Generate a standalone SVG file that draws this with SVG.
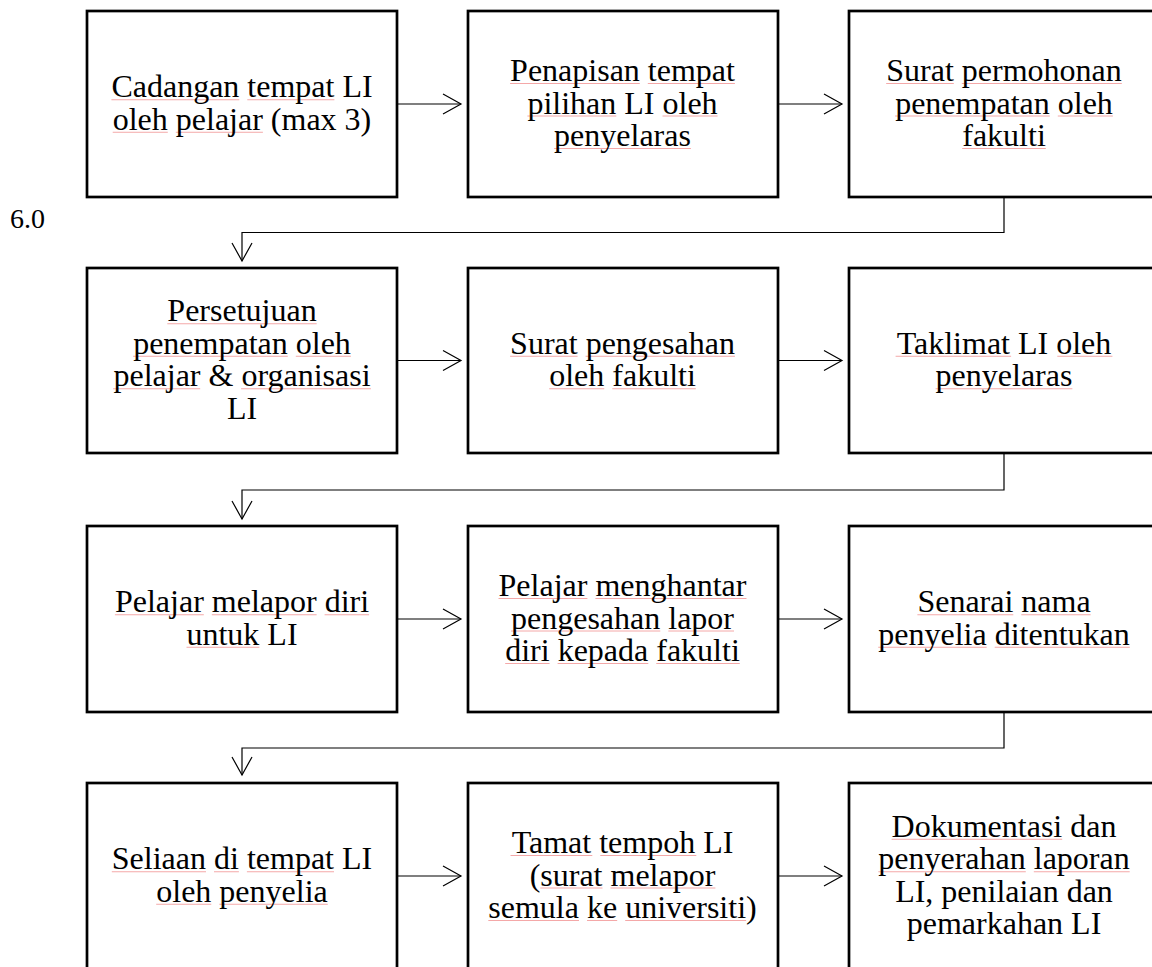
<svg xmlns="http://www.w3.org/2000/svg" width="1152" height="967" viewBox="0 0 1152 967">
<style>
.box{fill:#fff;stroke:#000;stroke-width:2.7}
.t{font-family:"Liberation Serif","Times New Roman",serif;font-size:32px;fill:#000;text-anchor:middle}
.sq{fill:none;stroke:#f4a8a8;stroke-width:1}
.c{fill:none;stroke:#000;stroke-width:1.2}
.lbl{font-family:"Liberation Serif","Times New Roman",serif;font-size:28px;fill:#000}
</style>
<defs>
<marker id="ah" markerUnits="userSpaceOnUse" markerWidth="22" markerHeight="24" refX="18" refY="10" orient="auto" overflow="visible">
<path d="M0,0 L18,10 L0,20" fill="none" stroke="#000" stroke-width="1.2"/>
</marker>
</defs>
<rect width="1152" height="967" fill="#fff"/>
<text class="lbl" x="10" y="228">6.0</text>

<g id="connectors">
<line class="c" x1="397" y1="104" x2="461" y2="104" marker-end="url(#ah)"/>
<line class="c" x1="778" y1="104" x2="842" y2="104" marker-end="url(#ah)"/>
<polyline class="c" points="1004,197 1004,232.5 242,232.5 242,261" marker-end="url(#ah)"/>
<line class="c" x1="397" y1="360.5" x2="461" y2="360.5" marker-end="url(#ah)"/>
<line class="c" x1="778" y1="360.5" x2="842" y2="360.5" marker-end="url(#ah)"/>
<polyline class="c" points="1004,453 1004,490 242,490 242,519" marker-end="url(#ah)"/>
<line class="c" x1="397" y1="619" x2="461" y2="619" marker-end="url(#ah)"/>
<line class="c" x1="778" y1="619" x2="842" y2="619" marker-end="url(#ah)"/>
<polyline class="c" points="1004,712 1004,748 242,748 242,775" marker-end="url(#ah)"/>
<line class="c" x1="397" y1="876" x2="461" y2="876" marker-end="url(#ah)"/>
<line class="c" x1="778" y1="876" x2="842" y2="876" marker-end="url(#ah)"/>
</g>

<g id="n1">
<rect class="box" x="87" y="11" width="310" height="186"/>
<path class="sq" d="M111.4 99.75H239.3M247.3 99.75H334.4M112.7 132.25H167.8M175.8 132.25H262.9"/>
<text class="t" x="242" y="97.25"><tspan>Cadangan</tspan> <tspan>tempat</tspan> LI</text>
<text class="t" x="242" y="129.75"><tspan>oleh</tspan> <tspan>pelajar</tspan> (max 3)</text>
</g>
<g id="n2">
<rect class="box" x="468" y="11" width="310" height="186"/>
<path class="sq" d="M510.1 83.5H639.8M647.8 83.5H734.9M527.4 116H616.3M662.5 116H717.6M554.1 148.5H690.9"/>
<text class="t" x="622.5" y="81"><tspan>Penapisan</tspan> <tspan>tempat</tspan></text>
<text class="t" x="622.5" y="113.5"><tspan>pilihan</tspan> LI <tspan>oleh</tspan></text>
<text class="t" x="622.5" y="146"><tspan>penyelaras</tspan></text>
</g>
<g id="n3">
<rect class="box" x="849" y="11" width="310" height="186"/>
<path class="sq" d="M886.2 83.5H953.8M961.8 83.5H1121.8M895.1 116H1049.8M1057.8 116H1112.9M962.2 148.5H1045.8"/>
<text class="t" x="1004" y="81"><tspan>Surat</tspan> <tspan>permohonan</tspan></text>
<text class="t" x="1004" y="113.5"><tspan>penempatan</tspan> <tspan>oleh</tspan></text>
<text class="t" x="1004" y="146"><tspan>fakulti</tspan></text>
</g>

<g id="n4">
<rect class="box" x="87" y="268" width="310" height="185"/>
<path class="sq" d="M167.3 323.75H316.7M133.1 356.25H287.8M295.8 356.25H350.9M113.1 388.75H200.2M241.1 388.75H370.9"/>
<text class="t" x="242" y="321.25"><tspan>Persetujuan</tspan></text>
<text class="t" x="242" y="353.75"><tspan>penempatan</tspan> <tspan>oleh</tspan></text>
<text class="t" x="242" y="386.25"><tspan>pelajar</tspan> &amp; <tspan>organisasi</tspan></text>
<text class="t" x="242" y="418.75">LI</text>
</g>
<g id="n5">
<rect class="box" x="468" y="268" width="310" height="185"/>
<path class="sq" d="M510.1 356.25H577.6M585.6 356.25H734.9M549.2 388.75H604.3M612.3 388.75H695.8"/>
<text class="t" x="622.5" y="353.75"><tspan>Surat</tspan> <tspan>pengesahan</tspan></text>
<text class="t" x="622.5" y="386.25"><tspan>oleh</tspan> <tspan>fakulti</tspan></text>
</g>
<g id="n6">
<rect class="box" x="849" y="268" width="310" height="185"/>
<path class="sq" d="M895.6 356.25H1011.1M1057.3 356.25H1112.4M935.6 388.75H1072.4"/>
<text class="t" x="1004" y="353.75"><tspan>Taklimat</tspan> LI <tspan>oleh</tspan></text>
<text class="t" x="1004" y="386.25"><tspan>penyelaras</tspan></text>
</g>

<g id="n7">
<rect class="box" x="87" y="526" width="310" height="186"/>
<path class="sq" d="M114.9 614.75H203.8M211.8 614.75H316.6M324.6 614.75H369.1M186.5 647.25H259.4"/>
<text class="t" x="242" y="612.25"><tspan>Pelajar</tspan> <tspan>melapor</tspan> <tspan>diri</tspan></text>
<text class="t" x="242" y="644.75"><tspan>untuk</tspan> LI</text>
</g>
<g id="n8">
<rect class="box" x="468" y="526" width="310" height="186"/>
<path class="sq" d="M498.5 598.5H587.4M595.4 598.5H746.5M511 631H660.3M668.3 631H734M505.2 663.5H549.6M557.6 663.5H648.3M656.3 663.5H739.8"/>
<text class="t" x="622.5" y="596"><tspan>Pelajar</tspan> <tspan>menghantar</tspan></text>
<text class="t" x="622.5" y="628.5"><tspan>pengesahan</tspan> <tspan>lapor</tspan></text>
<text class="t" x="622.5" y="661"><tspan>diri</tspan> <tspan>kepada</tspan> <tspan>fakulti</tspan></text>
</g>
<g id="n9">
<rect class="box" x="849" y="526" width="310" height="186"/>
<path class="sq" d="M917.4 614.75H1013.3M1021.3 614.75H1090.6M878.2 647.25H986.7M994.7 647.25H1129.8"/>
<text class="t" x="1004" y="612.25"><tspan>Senarai</tspan> <tspan>nama</tspan></text>
<text class="t" x="1004" y="644.75"><tspan>penyelia</tspan> <tspan>ditentukan</tspan></text>
</g>

<g id="n10">
<rect class="box" x="87" y="783" width="310" height="186"/>
<path class="sq" d="M111.8 871.75H206M214 871.75H238.9M246.9 871.75H334M156.2 904.25H211.3M219.3 904.25H327.8"/>
<text class="t" x="242" y="869.25"><tspan>Seliaan</tspan> <tspan>di</tspan> <tspan>tempat</tspan> LI</text>
<text class="t" x="242" y="901.75"><tspan>oleh</tspan> <tspan>penyelia</tspan></text>
</g>
<g id="n11">
<rect class="box" x="468" y="783" width="310" height="186"/>
<path class="sq" d="M510.5 855.5H592.3M600.3 855.5H696.3M540.3 888H602.5M610.5 888H715.4M488.3 920.5H579M587 920.5H617.2M625.2 920.5H746.1"/>
<text class="t" x="622.5" y="853"><tspan>Tamat</tspan> <tspan>tempoh</tspan> LI</text>
<text class="t" x="622.5" y="885.5">(<tspan>surat</tspan> <tspan>melapor</tspan></text>
<text class="t" x="622.5" y="918"><tspan>semula</tspan> <tspan>ke</tspan> <tspan>universiti</tspan>)</text>
</g>
<g id="n12">
<rect class="box" x="849" y="783" width="310" height="186"/>
<path class="sq" d="M891.6 839.25H1062.2M878.3 871.75H1025.8M1033.8 871.75H1129.7"/>
<text class="t" x="1004" y="836.75"><tspan>Dokumentasi</tspan> dan</text>
<text class="t" x="1004" y="869.25"><tspan>penyerahan</tspan> <tspan>laporan</tspan></text>
<text class="t" x="1004" y="901.75">LI, penilaian dan</text>
<text class="t" x="1004" y="934.25">pemarkahan LI</text>
</g>
</svg>
